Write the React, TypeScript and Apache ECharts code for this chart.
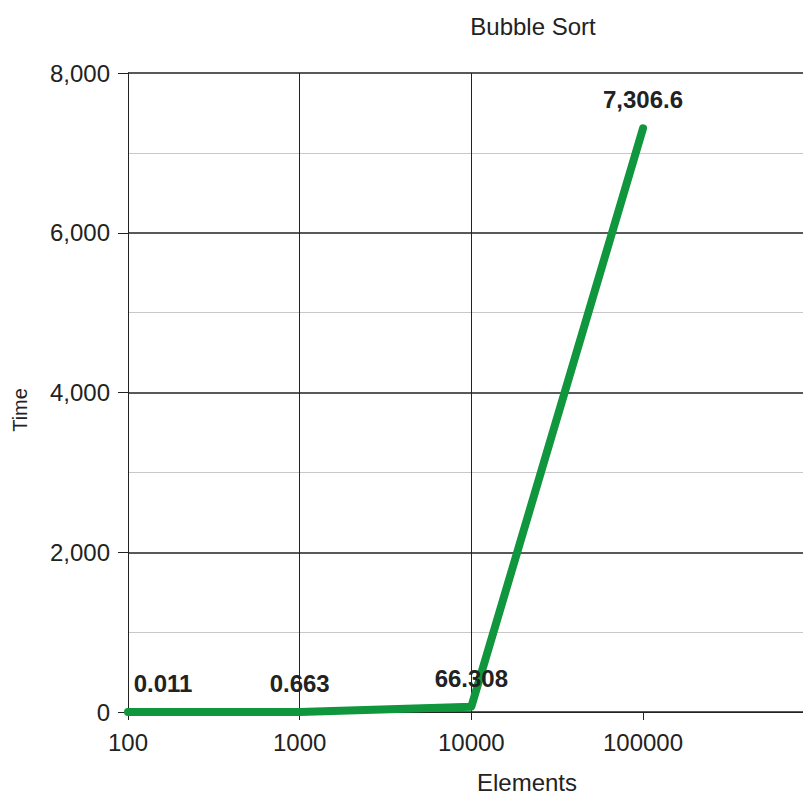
import React, { useEffect, useRef } from "react";
import * as echarts from "echarts";

const categories: string[] = ["100", "1000", "10000", "100000"];
const times: number[] = [0.011, 0.663, 66.308, 7306.6];
const dataLabels: string[] = ["0.011", "0.663", "66.308", "7,306.6"];
const yTicks: number[] = [0, 2000, 4000, 6000, 8000];

const FONT = "'Liberation Sans', Arial, sans-serif";

export default function App() {
  const ref = useRef<HTMLDivElement>(null);
  useEffect(() => {
    if (!ref.current) return;
    const chart = echarts.init(ref.current, null, { renderer: "svg" });
    const data = times.map((v, i) => {
      const item: any = { value: [i, v] };
      if (i === 0) item.label = { offset: [35, 0] };
      return item;
    });
    const catIdx = categories.map((_, i) => i);
    chart.setOption({
      animation: false,
      backgroundColor: "#ffffff",
      textStyle: { fontFamily: FONT },
      title: {
        text: "Bubble Sort",
        left: 528,
        top: 9,
        textAlign: "center",
        textStyle: { fontFamily: FONT, fontSize: 24, fontWeight: "normal", color: "#222" },
      },
      grid: { left: 128, top: 73, bottom: 84, right: -125, outerBoundsMode: "none", containLabel: false },
      xAxis: {
        type: "value",
        min: 0,
        max: 4.66,
        interval: 1,
        axisLine: { show: true, lineStyle: { color: "#222", width: 1 } },
        axisTick: { show: true, length: 8, customValues: catIdx, lineStyle: { color: "#222" } },
        splitLine: { show: true, showMaxLine: false, lineStyle: { color: "#222", width: 1 } },
        axisLabel: {
          margin: 18,
          fontFamily: FONT,
          fontSize: 24,
          color: "#222",
          customValues: catIdx,
          formatter: (v: number) => categories[Math.round(v)] ?? "",
        },
      },
      yAxis: {
        type: "value",
        min: yTicks[0],
        max: yTicks[yTicks.length - 1],
        interval: yTicks[1] - yTicks[0],
        axisLine: { show: true, lineStyle: { color: "#222", width: 1 } },
        axisTick: { show: true, length: 10, lineStyle: { color: "#222" } },
        splitLine: { show: true, lineStyle: { color: "#222", width: 1.5 } },
        minorTick: { show: false, splitNumber: 2 },
        minorSplitLine: { show: true, lineStyle: { color: "#c8c8c8", width: 1 } },
        axisLabel: {
          margin: 18,
          fontFamily: FONT,
          fontSize: 24,
          color: "#222",
          formatter: (v: number) => v.toLocaleString("en-US"),
        },
      },
      graphic: [
        {
          type: "text",
          x: 527,
          y: 782,
          style: {
            text: "Elements",
            fontFamily: FONT,
            fontSize: 24,
            fill: "#222",
            textAlign: "center",
            textVerticalAlign: "middle",
          },
        },
        {
          type: "text",
          x: 20,
          y: 410,
          rotation: Math.PI / 2,
          style: {
            text: "Time",
            fontFamily: FONT,
            fontSize: 20,
            fill: "#222",
            textAlign: "center",
            textVerticalAlign: "middle",
          },
        },
      ],
      series: [
        {
          type: "line",
          data,
          symbol: "circle",
          symbolSize: 1,
          showSymbol: true,
          itemStyle: { color: "#10963c" },
          lineStyle: { color: "#10963c", width: 8, cap: "round", join: "round" },
          label: {
            show: true,
            position: "top",
            distance: 16,
            fontFamily: FONT,
            fontSize: 24,
            fontWeight: "bold",
            color: "#222",
            formatter: (p: any) => dataLabels[p.dataIndex],
          },
        },
      ],
    });
    return () => chart.dispose();
  }, []);
  return <div ref={ref} style={{ width: 803, height: 796, position: "absolute", left: 0, top: 0 }} />;
}
